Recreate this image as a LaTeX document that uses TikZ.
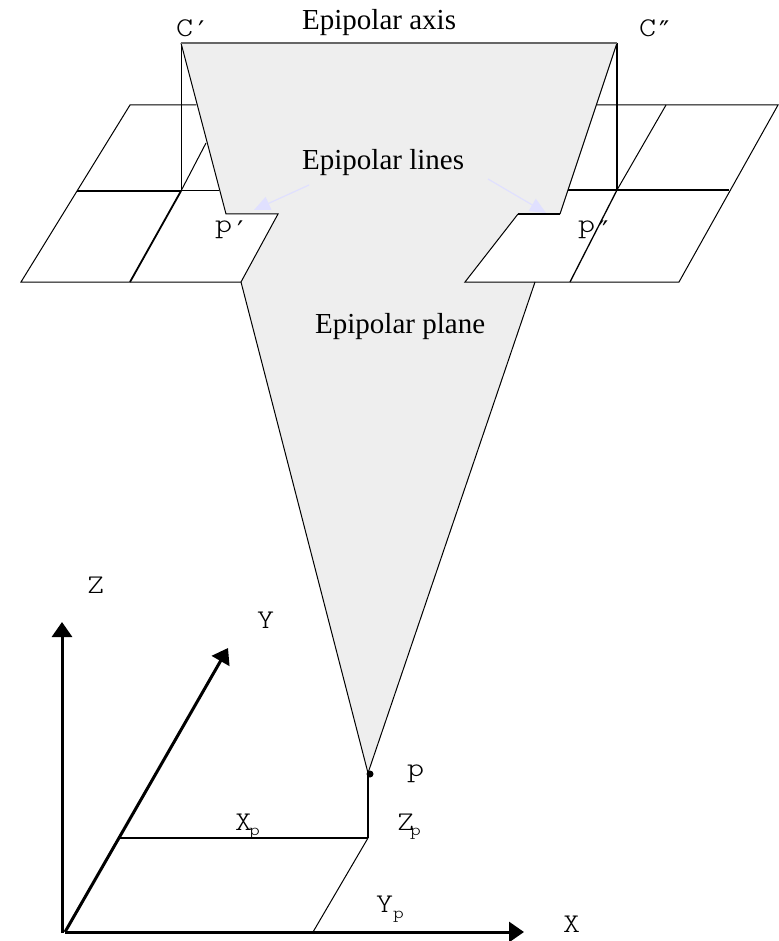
\documentclass[tikz,border=0pt]{standalone}
\usepackage{fontspec}
\setmainfont{Liberation Serif}
\newfontfamily\widemono[FakeStretch=1.2]{Latin Modern Mono Light}
\newfontfamily\primefont{DejaVu Sans Mono}
\newcommand{\primemark}[2]{\raisebox{#1}{\primefont #2}}
\newcommand{\subp}[2]{\kern#1\raisebox{#2}{\fontsize{17}{20}\selectfont p}}
\usetikzlibrary{arrows.meta}
\definecolor{planegray}{HTML}{EEEEEE}
\definecolor{lavender}{HTML}{E0E0FF}
\tikzset{
  thinline/.style={line width=1pt,black,line join=miter},
  midline/.style={line width=1.8pt,black},
  heavyline/.style={line width=2.8pt,black},
  axisline/.style={line width=3pt,black,-{Triangle[length=15pt,width=20pt]}},
  pointer/.style={line width=1.2pt,lavender,-{Triangle[length=16pt,width=14pt]}},
  serifLabel/.style={font=\fontsize{29}{32}\selectfont,text=black,inner sep=0pt,anchor=base west},
  monoLabel/.style={font=\widemono\fontsize{27}{30}\selectfont,text=black,inner sep=0pt,anchor=base west}
}
\begin{document}
\begin{tikzpicture}[x=1pt,y=-1pt]
\useasboundingbox (0,0) rectangle (778,941);
% key points
\coordinate (C1) at (181,43);
\coordinate (C2) at (617,43);
\coordinate (P) at (368,773);
\coordinate (L1) at (226,214);
\coordinate (L2) at (278,214);
\coordinate (L3) at (241,282);
\coordinate (R1) at (560,214);
\coordinate (R2) at (518,214);
\coordinate (R3) at (465,282);
\coordinate (R4) at (535,282);
\coordinate (O) at (65,932);
% epipolar plane
\fill[planegray] (C1) -- (C2) -- (R1) -- (R2) -- (R3) -- (R4) -- (P) -- (L3) -- (L2) -- (L1) -- cycle;
% left image plane
\coordinate (LA) at (130,105);
\coordinate (LB) at (21,282);
\coordinate (LC) at (196,105);
\coordinate (LD) at (77,191);
\coordinate (LE) at (181,191);
\coordinate (LF) at (219,191);
\coordinate (LG) at (130,282);
\coordinate (LH) at (206,143);
\draw[thinline] (LC) -- (LA) -- (LB) -- (L3) -- (L2) -- (L1) -- (C1);
\draw[thinline] (C1) -- (LE) -- (LF);
\draw[midline] (LD) -- (LE);
\draw[midline] (LG) -- (LE);
\draw[thinline] (LE) -- (LH);
% right image plane
\coordinate (RA) at (597,105);
\coordinate (RB) at (778,105);
\coordinate (RC) at (679,282);
\coordinate (RD) at (666,105);
\coordinate (RE) at (570,282);
\coordinate (RF) at (568,190);
\coordinate (RG) at (729,190);
\coordinate (RH) at (617,190);
\draw[thinline] (RA) -- (RB) -- (RC) -- (R3) -- (R2);
\draw[midline,line width=1.3pt] (R2) -- (R1);
\draw[thinline] (R1) -- (C2);
\draw[thinline] (RD) -- (RH);
\draw[midline,line width=1.3pt] (RH) -- (RE);
\draw[midline,line width=1.2pt] (RF) -- (RG);
\draw[heavyline] (C2) -- (RH);
% epipolar rays and axis
\draw[line width=1.6pt,black!60] (C1) -- (C2);
\draw[thinline] (L3) -- (P) -- (R4);
% pointers
\coordinate (A1) at (309,185);
\coordinate (A2) at (254,210);
\coordinate (A3) at (488,179);
\coordinate (A4) at (546,213);
\draw[pointer] (A1) -- (A2);
\draw[pointer] (A3) -- (A4);
% coordinate axes
\coordinate (Ztip) at (62,622);
\coordinate (Zbase) at (62,933);
\coordinate (Ytip) at (228,648);
\coordinate (Xtip) at (524,932);
\draw[axisline] (Zbase) -- (Ztip);
\draw[axisline] (O) -- (Ytip);
\draw[axisline] (O) -- (Xtip);
% point projection
\coordinate (Pf) at (368,838);
\coordinate (Py) at (120,838);
\coordinate (Px) at (313,932);
\draw[line width=1.3pt] (P) -- (Pf);
\draw[line width=1.2pt] (Py) -- (Pf);
\draw[thinline] (Pf) -- (Px);
\fill[black] (370,774) circle (3.5pt);
% labels
\node[serifLabel] (axislabel) at (302,30) {Epipolar axis};
\node[serifLabel] (lineslabel) at (302,170) {Epipolar lines};
\node[serifLabel] (planelabel) at (315,333) {Epipolar plane};
\node[monoLabel] (cl) at (176,37) {C\primemark{-4pt}{′}};
\node[monoLabel] (cr) at (639,37) {C\primemark{-4pt}{″}};
\node[monoLabel] (pl) at (215,233) {p\primemark{-8pt}{′}};
\node[monoLabel] (pr) at (578,233) {p\primemark{-8pt}{″}};
\node[monoLabel] (z) at (87,593) {Z};
\node[monoLabel] (y) at (257,628) {Y};
\node[monoLabel] (x) at (563,932) {X};
\node[monoLabel] (p) at (407,776) {p};
\node[monoLabel] (xp) at (235,830) {X\subp{-3pt}{-5pt}};
\node[monoLabel] (zp) at (397,830) {Z\subp{-4pt}{-5pt}};
\node[monoLabel] (yp) at (376,912) {Y\subp{0pt}{-6pt}};
\end{tikzpicture}
\end{document}
